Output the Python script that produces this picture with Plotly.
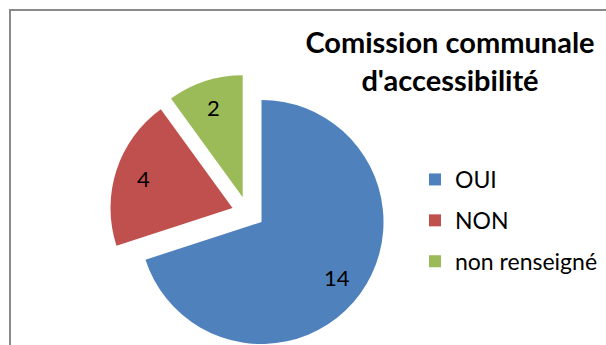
import math
import plotly.graph_objects as go

# ---- data ----
labels = ["OUI", "NON", "non renseigné"]
values = [14, 4, 2]
colors = ["#4F81BD", "#C0504D", "#9BBB59"]
title_text = "<b>Comission communale<br>d'accessibilité</b>"

W, H = 606, 345
FONT = "Lato"
TRANSP = "rgba(0,0,0,0)"


def dom_x(cx, r):
    return [(cx - r) / W, (cx + r) / W]


def dom_y(cy, r):
    return [1 - (cy + r) / H, 1 - (cy - r) / H]


R = 122
# each slice drawn by its own trace, placed at its (exploded) centre
centres = [(261.5, 222.0), (232.5, 208.0), (242.7, 197.3)]
LABEL_FRAC = 0.77

fig = go.Figure()
total = sum(values)
cum = 0
annotations = []
for i, (cx, cy) in enumerate(centres):
    cols = [colors[j] if j == i else TRANSP for j in range(len(values))]
    fig.add_trace(go.Pie(
        labels=labels, values=values, sort=False, direction="clockwise",
        rotation=0,
        marker=dict(colors=cols, line=dict(width=0)),
        textinfo="none",
        domain=dict(x=dom_x(cx, R), y=dom_y(cy, R)),
        showlegend=False, hoverinfo="label+value",
    ))
    # value label at the slice's mid angle
    mid = (cum + values[i] / 2) / total * 2 * math.pi
    cum += values[i]
    lx = cx + LABEL_FRAC * R * math.sin(mid)
    ly = cy - LABEL_FRAC * R * math.cos(mid)
    annotations.append(dict(
        x=lx / W, y=1 - ly / H, xref="paper", yref="paper",
        text=str(values[i]), showarrow=False,
        font=dict(family=FONT, size=22, color="#000000"),
        xanchor="center", yanchor="middle"))

# legend-carrying traces (tiny, invisible pies), one per label
for i in range(len(labels)):
    fig.add_trace(go.Pie(
        labels=[labels[i]], values=[values[i]],
        marker=dict(colors=[colors[i]]), textinfo="none",
        domain=dict(x=[0, 0.0005], y=[0, 0.0005]),
        legendgroup=labels[i], showlegend=True, hoverinfo="skip",
    ))

fig.update_layout(
    width=W, height=H,
    margin=dict(l=0, r=0, t=0, b=0),
    paper_bgcolor="white", plot_bgcolor="white",
    font=dict(family=FONT, color="#000000"),
    title=dict(text=title_text, x=450 / W, xanchor="center",
               y=1 - 53 / H, yanchor="top",
               font=dict(family=FONT, size=29, color="#000000")),
    legend=dict(x=415 / W, xanchor="left", y=1 - 158 / H, yanchor="top",
                font=dict(family=FONT, size=23, color="#000000"),
                traceorder="grouped", tracegroupgap=8,
                bgcolor="rgba(0,0,0,0)", itemclick=False),
    annotations=annotations,
    shapes=[dict(type="rect", xref="paper", yref="paper",
                 x0=10 / W, x1=1.05, y0=-0.05, y1=1 - 10 / H,
                 line=dict(color="#8a8a8a", width=2), fillcolor="rgba(0,0,0,0)",
                 layer="below")],
)

fig.write_html("out.html")
